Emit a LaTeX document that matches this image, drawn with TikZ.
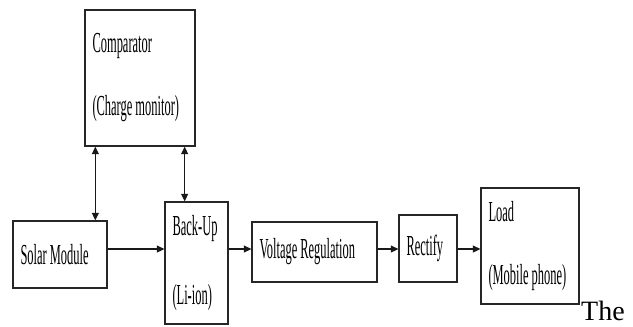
\documentclass[tikz,border=0pt]{standalone}
\usepackage{fontspec}
\setmainfont{Liberation Serif}
\newfontfamily\narrowserif[FakeStretch=0.43]{Liberation Serif}
\usetikzlibrary{arrows.meta,positioning}

\begin{document}
\begin{tikzpicture}[
    x=1pt, y=-1pt,
    block/.style={rectangle, draw=black!85, line width=1.3pt, text width=#1, align=left,
        inner xsep=7.5pt, inner ysep=0pt, font=\narrowserif\fontsize{29}{31}\selectfont,
        execute at begin node={\spaceskip=3pt plus 1pt\relax}},
    block/.default=50pt,
    arr/.style={-{Triangle[length=7.5pt, width=7pt]}, line width=1.3pt, black!90},
    dbl/.style={{Triangle[length=7.5pt, width=7pt]}-{Triangle[length=7.5pt, width=7pt]}, line width=1pt, black!90}
]
\useasboundingbox (0,0) rectangle (633,327);

% Top: comparator
\node[block=95pt, minimum height=136pt] (comp) at (140,78)
    {Comparator\\[32pt](Charge monitor)};

% Main chain
\node[block=79pt, minimum height=67pt] (solar) at (60,254.5) {Solar Module};
\node[block=48pt, minimum height=122pt] (backup) at (196.5,263)
    {Back-Up\\[38pt](Li-ion)};
\node[block=110pt, minimum height=60pt] (volt) at (314.5,252) {Voltage Regulation};
\node[block=43pt, minimum height=67pt] (rect) at (428,248.5) {Rectify};
\node[block=83pt, minimum height=116pt] (load) at (530,246)
    {Load\\[32pt](Mobile phone)};

% Stray text
\node[font=\fontsize{28}{34}\selectfont, anchor=base west, inner sep=0pt] (the) at (581,320) {The};

% -- Arrows --
\coordinate (flow) at (0,249);
\draw[arr] (solar.east |- flow) -- (backup.west |- flow);
\draw[arr] (backup.east |- flow) -- (volt.west |- flow);
\draw[arr] (volt.east |- flow) -- (rect.west |- flow);
\draw[arr] (rect.east |- flow) -- (load.west |- flow);
\draw[dbl] ([xshift=11pt]comp.south west) -- ([xshift=11pt]comp.south west |- solar.north);
\draw[dbl] ([xshift=-11pt]comp.south east) -- ([xshift=-11pt]comp.south east |- backup.north);

\end{tikzpicture}
\end{document}
